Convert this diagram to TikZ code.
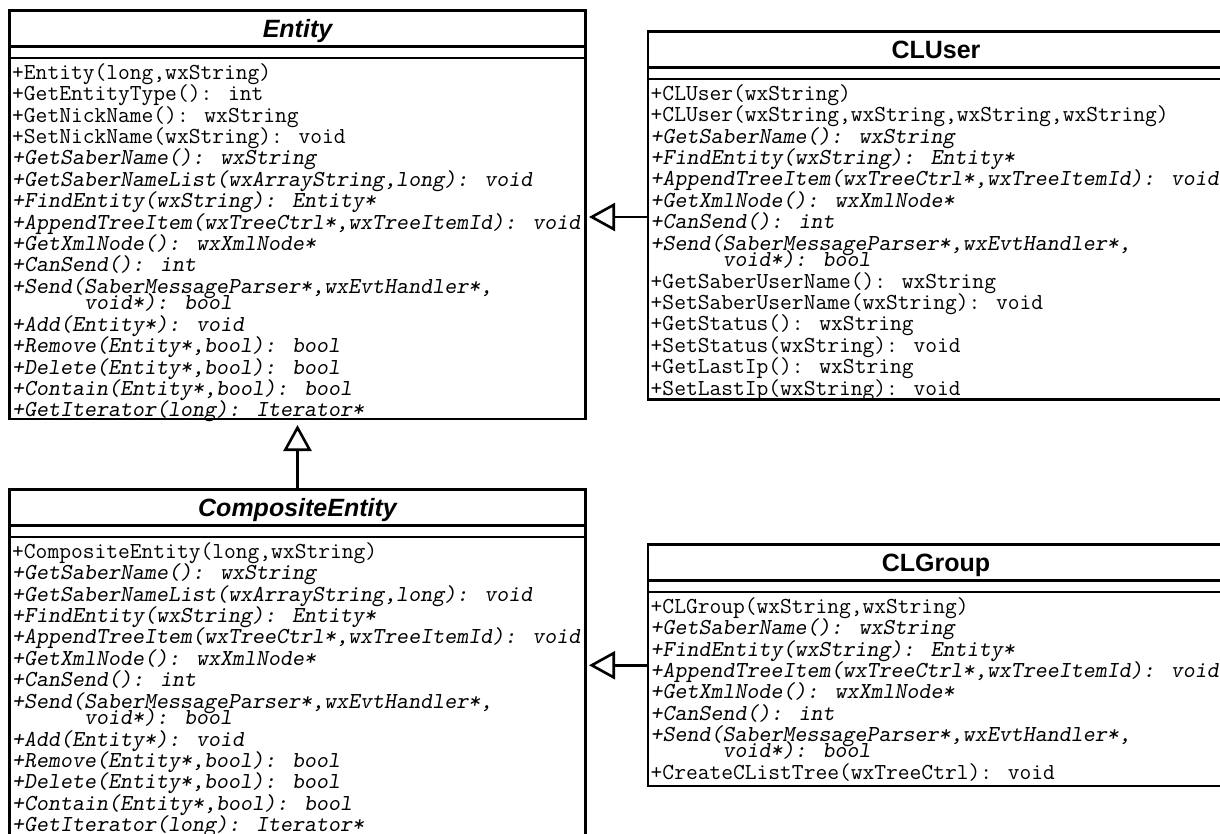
\documentclass[tikz,border=0pt]{standalone}
\usepackage{fontspec}
\setmainfont{Liberation Sans}
\setsansfont{Liberation Sans}
\usetikzlibrary{arrows.meta}

% slanted (virtual) operation, hanging indent of a wrapped signature, first-line strut
\newcommand\virt[1]{{\slshape #1}}
\newcommand\wrapind{\hspace*{72pt}}
\newcommand\topstrut{\rule{0pt}{18pt}}

\begin{document}
\begin{tikzpicture}[x=1pt,y=-1pt,
  classbox/.style={draw, line width=2.8pt, rectangle, inner sep=0pt, outer sep=0pt, anchor=north west},
  classname/.style={font=\sffamily\bfseries\fontsize{25pt}{30pt}\selectfont, anchor=base, inner sep=0pt},
  abstractname/.style={font=\sffamily\bfseries\itshape\fontsize{25pt}{30pt}\selectfont, anchor=base, inner sep=0pt},
  members/.style={font=\ttfamily\fontsize{22.86pt}{21.4pt}\selectfont, align=left, anchor=north west, inner sep=0pt},
  sepline/.style={line width=2.8pt},
  gen/.style={line width=2.6pt, -{Triangle[open, length=26pt, width=28pt]}}
]
\useasboundingbox (0,0) rectangle (1220,834);
\clip (0,0) rectangle (1220,834);

% ---------- Entity ----------
\node[classbox, minimum width=576pt, minimum height=408.5pt] (entity) at (9.5,10.5) {};
\node[abstractname] (entityname) at (297.5,37.5) {Entity};
\draw[sepline] ([yshift=-36pt]entity.north west) -- ([yshift=-36pt]entity.north east);
\draw[sepline] ([yshift=-47.5pt]entity.north west) -- ([yshift=-47.5pt]entity.north east);
\node[members] (entityops) at (12,61) {%
\topstrut+Entity(long,wxString)\\
+GetEntityType(): int\\
+GetNickName(): wxString\\
+SetNickName(wxString): void\\
\virt{+GetSaberName(): wxString}\\
\virt{+GetSaberNameList(wxArrayString,long): void}\\
\virt{+FindEntity(wxString): Entity*}\\
\virt{+AppendTreeItem(wxTreeCtrl*,wxTreeItemId): void}\\
\virt{+GetXmlNode(): wxXmlNode*}\\
\virt{+CanSend(): int}\\
\virt{+Send(SaberMessageParser*,wxEvtHandler*,}\\[-5.4pt]
\wrapind\virt{void*): bool}\\[0.6pt]
\virt{+Add(Entity*): void}\\
\virt{+Remove(Entity*,bool): bool}\\
\virt{+Delete(Entity*,bool): bool}\\
\virt{+Contain(Entity*,bool): bool}\\
\virt{+GetIterator(long): Iterator*}};

% ---------- CompositeEntity ----------
\node[classbox, minimum width=576pt, minimum height=350pt] (composite) at (9.5,489.5) {};
\node[abstractname] (compositename) at (297.5,516.5) {CompositeEntity};
\draw[sepline] ([yshift=-36pt]composite.north west) -- ([yshift=-36pt]composite.north east);
\draw[sepline] ([yshift=-47.5pt]composite.north west) -- ([yshift=-47.5pt]composite.north east);
\node[members] (compositeops) at (12,540) {%
\topstrut+CompositeEntity(long,wxString)\\
\virt{+GetSaberName(): wxString}\\
\virt{+GetSaberNameList(wxArrayString,long): void}\\
\virt{+FindEntity(wxString): Entity*}\\
\virt{+AppendTreeItem(wxTreeCtrl*,wxTreeItemId): void}\\
\virt{+GetXmlNode(): wxXmlNode*}\\
\virt{+CanSend(): int}\\
\virt{+Send(SaberMessageParser*,wxEvtHandler*,}\\[-5.4pt]
\wrapind\virt{void*): bool}\\[0.6pt]
\virt{+Add(Entity*): void}\\
\virt{+Remove(Entity*,bool): bool}\\
\virt{+Delete(Entity*,bool): bool}\\
\virt{+Contain(Entity*,bool): bool}\\
\virt{+GetIterator(long): Iterator*}};

% ---------- CLUser ----------
\node[classbox, minimum width=576pt, minimum height=368pt] (cluser) at (648,31.5) {};
\node[classname] (clusername) at (936,58.5) {CLUser};
\draw[sepline] ([yshift=-36pt]cluser.north west) -- ([yshift=-36pt]cluser.north east);
\draw[sepline] ([yshift=-47.5pt]cluser.north west) -- ([yshift=-47.5pt]cluser.north east);
\node[members] (cluserops) at (650.5,82) {%
\topstrut+CLUser(wxString)\\
+CLUser(wxString,wxString,wxString,wxString)\\
\virt{+GetSaberName(): wxString}\\
\virt{+FindEntity(wxString): Entity*}\\
\virt{+AppendTreeItem(wxTreeCtrl*,wxTreeItemId): void}\\
\virt{+GetXmlNode(): wxXmlNode*}\\
\virt{+CanSend(): int}\\
\virt{+Send(SaberMessageParser*,wxEvtHandler*,}\\[-5.4pt]
\wrapind\virt{void*): bool}\\[0.6pt]
+GetSaberUserName(): wxString\\
+SetSaberUserName(wxString): void\\
+GetStatus(): wxString\\
+SetStatus(wxString): void\\
+GetLastIp(): wxString\\
+SetLastIp(wxString): void};

% ---------- CLGroup ----------
\node[classbox, minimum width=576pt, minimum height=241.5pt] (clgroup) at (648,544.5) {};
\node[classname] (clgroupname) at (936,571.5) {CLGroup};
\draw[sepline] ([yshift=-36pt]clgroup.north west) -- ([yshift=-36pt]clgroup.north east);
\draw[sepline] ([yshift=-47.5pt]clgroup.north west) -- ([yshift=-47.5pt]clgroup.north east);
\node[members] (clgroupops) at (650.5,595) {%
\topstrut+CLGroup(wxString,wxString)\\
\virt{+GetSaberName(): wxString}\\
\virt{+FindEntity(wxString): Entity*}\\
\virt{+AppendTreeItem(wxTreeCtrl*,wxTreeItemId): void}\\
\virt{+GetXmlNode(): wxXmlNode*}\\
\virt{+CanSend(): int}\\
\virt{+Send(SaberMessageParser*,wxEvtHandler*,}\\[-5.4pt]
\wrapind\virt{void*): bool}\\[0.6pt]
+CreateCListTree(wxTreeCtrl): void};

% ---------- generalizations ----------
\draw[gen, shorten >=3.5pt] ([yshift=-1.5pt]cluser.west) -- ([yshift=-1.5pt]cluser.west -| entity.east);
\draw[gen, shorten >=3.5pt] (clgroup.west) -- (clgroup.west -| composite.east);
\draw[gen, shorten >=6pt] (composite.north) -- (entity.south);
\end{tikzpicture}
\end{document}
